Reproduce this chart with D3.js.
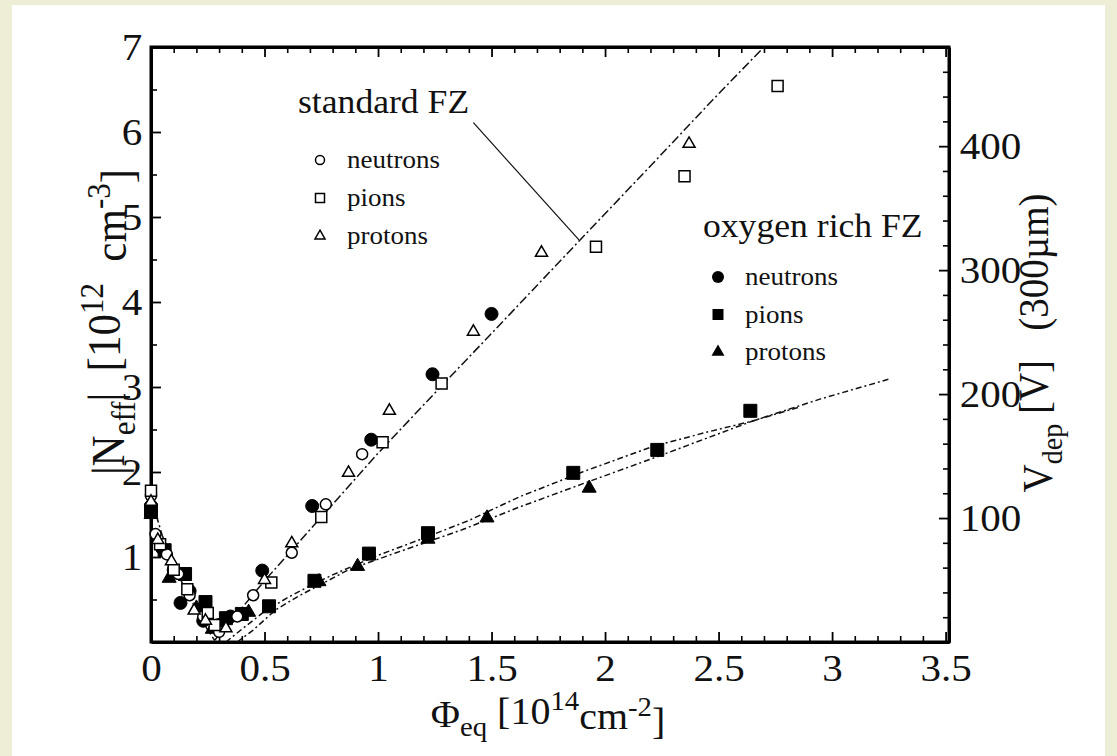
<!DOCTYPE html>
<html><head><meta charset="utf-8">
<script src="https://cdn.jsdelivr.net/npm/d3@7"></script>
<style>
html,body{margin:0;padding:0;background:#eeeed6;}
svg{display:block;}
text{font-family:"Liberation Serif","Times New Roman",serif;fill:#111;white-space:pre;}
</style></head>
<body><svg id="c" width="1117" height="756"></svg>
<script>
// ---- data (x: Φeq [1e14 cm^-2], y: |Neff| [1e12 cm^-3]) ----
const xTicks = [0, 0.5, 1, 1.5, 2, 2.5, 3, 3.5];
const yTicks = [1, 2, 3, 4, 5, 6, 7];
const vTicks = [100, 200, 300, 400];

const stdNeutrons = [[0.0,1.72],[0.02,1.27],[0.07,1.03],[0.12,0.80],[0.17,0.55],[0.23,0.30],[0.30,0.12],[0.38,0.30],[0.45,0.55],[0.62,1.05],[0.77,1.62],[0.93,2.21]];
const stdPions = [[0.0,1.78],[0.04,1.15],[0.10,0.85],[0.16,0.62],[0.25,0.34],[0.28,0.20],[0.53,0.70],[0.75,1.47],[1.02,2.35],[1.28,3.04],[1.96,4.65],[2.35,5.48],[2.76,6.54]];
const stdProtons = [[0.0,1.65],[0.03,1.20],[0.09,0.95],[0.19,0.37],[0.24,0.25],[0.33,0.16],[0.50,0.73],[0.62,1.16],[0.87,1.99],[1.05,2.72],[1.42,3.65],[1.72,4.58],[2.37,5.86]];
const oxyNeutrons = [[0.0,1.60],[0.05,1.10],[0.10,0.85],[0.13,0.46],[0.17,0.60],[0.23,0.25],[0.30,0.20],[0.35,0.30],[0.49,0.84],[0.71,1.60],[0.97,2.38],[1.24,3.15],[1.50,3.86]];
const oxyPions = [[0.0,1.55],[0.06,1.08],[0.15,0.80],[0.24,0.47],[0.33,0.28],[0.40,0.33],[0.52,0.42],[0.72,0.72],[0.96,1.04],[1.22,1.28],[1.86,1.99],[2.23,2.26],[2.64,2.72]];
const oxyProtons = [[0.0,1.50],[0.08,0.75],[0.20,0.40],[0.27,0.15],[0.43,0.35],[0.74,0.71],[0.91,0.89],[1.22,1.21],[1.48,1.46],[1.93,1.81]];

const stdFit = [[0,1.70],[0.05,1.25],[0.10,0.92],[0.15,0.62],[0.20,0.38],[0.25,0.14],[0.28,0.02],[0.30,0.08],[0.35,0.24],[0.40,0.40],[0.50,0.72],[0.60,1.02],[0.75,1.47],[1.0,2.22],[1.3,3.07],[1.5,3.63],[1.89,4.73],[2.2,5.6],[2.475,6.38],[2.70,7.0]];
const oxyFitA = [[0.33,0.0],[0.40,0.15],[0.50,0.36],[0.60,0.52],[0.70,0.66],[0.80,0.79],[1.00,1.02],[1.20,1.22],[1.40,1.43],[1.625,1.71],[1.9,2.0],[2.21,2.30],[2.45,2.47],[2.65,2.60],[2.85,2.76]];
const oxyFitB = [[0.38,0.0],[0.45,0.14],[0.55,0.38],[0.65,0.54],[0.75,0.68],[0.87,0.85],[1.08,1.05],[1.37,1.32],[1.625,1.59],[1.9,1.86],[2.21,2.16],[2.65,2.60],[2.95,2.86],[3.26,3.10]];

const legendStd = ["neutrons","pions","protons"];
const legendOxy = ["neutrons","pions","protons"];

// ---- layout ----
const svg = d3.select("#c");
svg.append("rect").attr("x",12).attr("y",5).attr("width",1093).attr("height",751).attr("fill","#fff");

const x = d3.scaleLinear().domain([0, 3.515]).range([151, 949]);
const y = d3.scaleLinear().domain([0, 7]).range([642, 47]);
const yV = d3.scaleLinear().domain([0, 480]).range([642, 47]);
const SX = 1.08; // horizontal stretch of the reference

const fTick = 38;

function styleAxis(g){
  g.select(".domain").attr("stroke","#000").attr("stroke-width",3);
  g.selectAll(".tick line").attr("stroke","#000").attr("stroke-width",1.8);
  g.selectAll("text").style("font-size",fTick+"px").attr("fill","#111").attr("transform",`scale(${SX},1)`);
}
function range(a,b,s){const r=[];for(let v=a;v<=b+1e-9;v+=s)r.push(+v.toFixed(4));return r;}
function minor(g){g.select(".domain").remove();g.selectAll("line").attr("stroke","#000").attr("stroke-width",1.6);}

const xMinor = range(0,3.5,0.1).filter(v=>Math.abs(v*2-Math.round(v*2))>1e-6);
const yMinor = range(0.5,6.5,1);
const vMinor = range(20,460,20).filter(v=>v%100!==0);
const xR = x.range()[1];

// bottom
const gB = svg.append("g").attr("transform",`translate(0,${y(0)})`);
gB.call(d3.axisBottom(x).tickValues(xTicks).tickSizeInner(-10).tickSizeOuter(0).tickPadding(12).tickFormat(d3.format("")));
styleAxis(gB);
svg.append("g").attr("transform",`translate(0,${y(0)})`).call(d3.axisBottom(x).tickValues(xMinor).tickSize(-6).tickFormat("")).call(minor);
// top
const gT = svg.append("g").attr("transform",`translate(0,${y(7)})`);
gT.call(d3.axisTop(x).tickValues(xTicks).tickSizeInner(-10).tickSizeOuter(0).tickFormat(""));
styleAxis(gT);
svg.append("g").attr("transform",`translate(0,${y(7)})`).call(d3.axisTop(x).tickValues(xMinor).tickSize(-6).tickFormat("")).call(minor);
// left
const gL = svg.append("g").attr("transform",`translate(${x(0)},0)`);
gL.call(d3.axisLeft(y).tickValues(yTicks).tickSizeInner(-10).tickSizeOuter(0).tickPadding(8).tickFormat(d3.format("d")));
styleAxis(gL);
svg.append("g").attr("transform",`translate(${x(0)},0)`).call(d3.axisLeft(y).tickValues(yMinor).tickSize(-6).tickFormat("")).call(minor);
// right
const gR = svg.append("g").attr("transform",`translate(${xR},0)`);
gR.call(d3.axisRight(yV).tickValues(vTicks).tickSizeInner(-10).tickSizeOuter(0).tickPadding(10).tickFormat(d3.format("d")));
styleAxis(gR);
svg.append("g").attr("transform",`translate(${xR},0)`).call(d3.axisRight(yV).tickValues(vMinor).tickSize(-6).tickFormat("")).call(minor);
// frame
svg.append("rect").attr("x",x(0)).attr("y",y(7)).attr("width",xR-x(0)).attr("height",y(0)-y(7)).attr("fill","none").attr("stroke","#000").attr("stroke-width",3);

// ---- fits ----
const line = d3.line().x(d=>x(d[0])).y(d=>y(d[1]));
const gFit = svg.append("g").attr("fill","none").attr("stroke","#111").attr("stroke-width",1.5);
gFit.append("path").datum(stdFit).attr("d",line).attr("stroke-dasharray","9,3,2,3");
gFit.append("path").datum(oxyFitA).attr("d",line).attr("stroke-dasharray","6,3,2,3");
gFit.append("path").datum(oxyFitB).attr("d",line).attr("stroke-dasharray","6,3,2,3");

// ---- markers ----
function tri(s){return Math.sqrt(3)/4*s*s;}
function drawSet(data, type, size, filled){
  svg.append("g").selectAll("path").data(data).join("path")
    .attr("transform",d=>`translate(${x(d[0])},${y(d[1])})`)
    .attr("d",d3.symbol().type(type).size(size))
    .attr("fill",filled?"#000":"#fff").attr("stroke","#000").attr("stroke-width",filled?1:1.5);
}
drawSet(oxyNeutrons, d3.symbolCircle, Math.PI*6.5*6.5, true);
drawSet(oxyPions, d3.symbolSquare, 13*13, true);
drawSet(oxyProtons, d3.symbolTriangle, tri(14), true);
drawSet(stdNeutrons, d3.symbolCircle, Math.PI*5.5*5.5, false);
drawSet(stdPions, d3.symbolSquare, 11*11, false);
drawSet(stdProtons, d3.symbolTriangle, tri(12), false);

// ---- legends ----
function stext(xp, yp, size, str){
  return svg.append("text").attr("transform",`translate(${xp},${yp}) scale(${SX},1)`).style("font-size",size+"px").text(str);
}
stext(298,113,33,"standard FZ");
stext(703,237,33,"oxygen rich FZ");
const symTypes=[d3.symbolCircle,d3.symbolSquare,d3.symbolTriangle];
const stdSizes=[Math.PI*4.5*4.5, 9*9, tri(10)];
legendStd.forEach((t,i)=>{
  const yy = 160 + i*38;
  svg.append("path").attr("transform",`translate(320,${yy})`).attr("d",d3.symbol().type(symTypes[i]).size(stdSizes[i])).attr("fill","#fff").attr("stroke","#000").attr("stroke-width",1.5);
  stext(347, yy+8, 25, t);
});
const oxySizes=[Math.PI*6*6, 11*11, tri(13)];
legendOxy.forEach((t,i)=>{
  const yy = 277 + i*37.5;
  svg.append("path").attr("transform",`translate(718,${yy})`).attr("d",d3.symbol().type(symTypes[i]).size(oxySizes[i])).attr("fill","#000");
  stext(745, yy+8, 25, t);
});
// leader line
svg.append("line").attr("x1",x(1.42)).attr("y1",y(6.11)).attr("x2",x(1.885)).attr("y2",y(4.73)).attr("stroke","#111").attr("stroke-width",1.2);

// ---- axis titles ----
function addParts(t, parts){
  parts.forEach(p=>{
    const ts = t.append("tspan").text(p[0]);
    if(p[1]==="sub") ts.attr("dy","0.32em").style("font-size","72%");
    if(p[1]==="sup") ts.attr("dy","-0.5em").style("font-size","72%");
    if(p[1]==="subEnd") ts.attr("dy","-0.32em");
    if(p[1]==="supEnd") ts.attr("dy","0.5em");
  });
}
const tx = svg.append("text").attr("transform",`translate(548,727) scale(${SX},1)`).attr("text-anchor","middle").style("font-size","37px");
addParts(tx, [["Φ"],["eq","sub"],[" [10","subEnd"],["14","sup"],["cm","supEnd"],["-2","sup"],["]","supEnd"]]);

const tyL = svg.append("text").attr("transform",`translate(124,322) scale(${SX},1) rotate(-90)`).attr("text-anchor","middle").style("font-size","43px");
addParts(tyL, [["|N"],["eff","sub"],["|  [10","subEnd"],["12","sup"],["  cm","supEnd"],["-3","sup"],["]","supEnd"]]);

const tyR = svg.append("text").attr("transform",`translate(1052,343) scale(${SX},1) rotate(-90)`).attr("text-anchor","middle").style("font-size","39px");
addParts(tyR, [["V"],["dep","sub"],[" [V]   (300µm)","subEnd"]]);
</script></body></html>
